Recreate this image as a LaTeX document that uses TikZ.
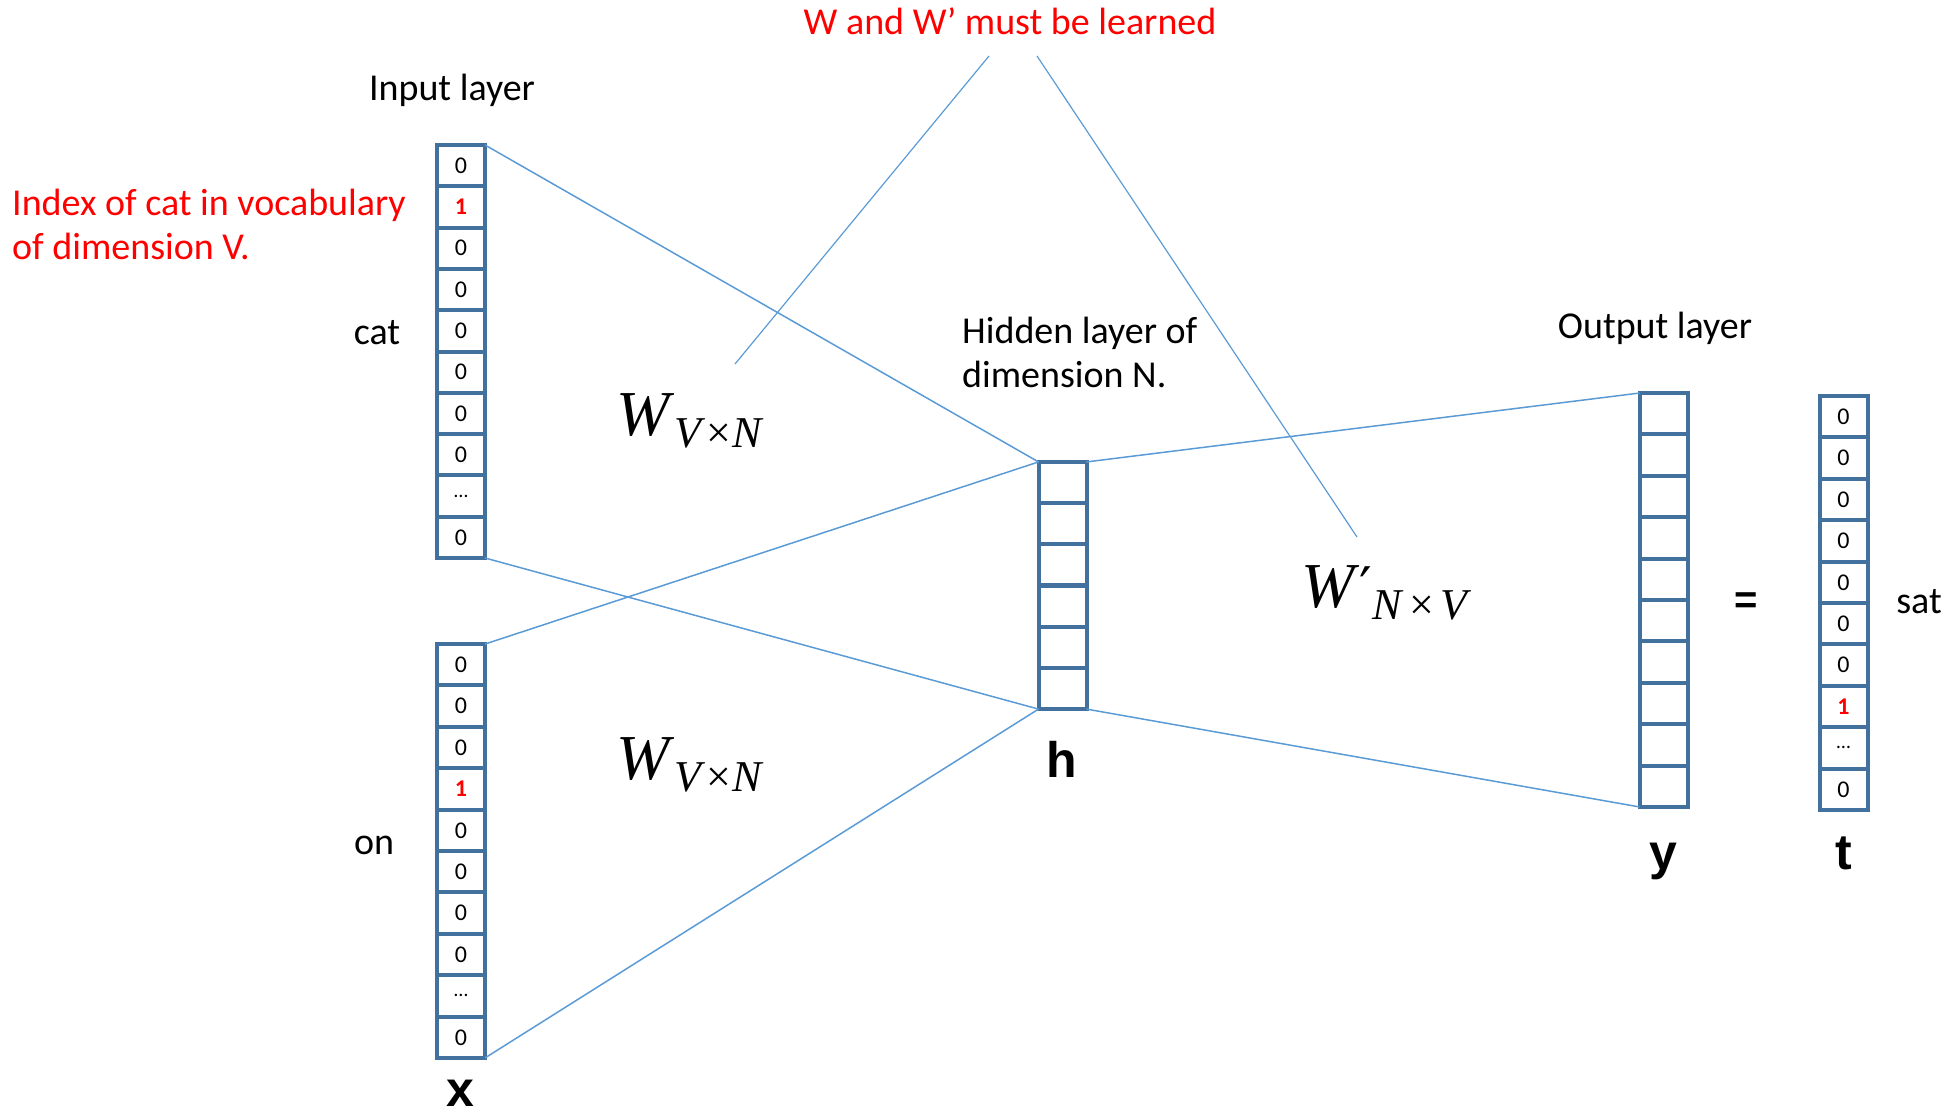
\documentclass[tikz,border=0pt]{standalone}
\usepackage{fontspec}
\setmainfont{Carlito}
\newfontfamily\boldsans{Liberation Sans}
\newfontfamily\mfnt{Liberation Serif}
\newfontfamily\primefnt{DejaVu Serif}
\definecolor{boxblue}{HTML}{41719C}
\definecolor{lineblue}{HTML}{5B9BD5}
\definecolor{redtxt}{HTML}{FF0000}
\tikzset{
  cell/.style={draw=boxblue, line width=4pt, minimum width=48pt, minimum height=41.3pt,
    inner sep=0pt, outer sep=0pt, font=\fontsize{24}{26}\selectfont},
  conn/.style={draw=lineblue, line width=1.5pt},
  lbl/.style={font=\fontsize{38}{44}\selectfont, inner sep=0pt},
  redlbl/.style={lbl, text=redtxt},
  bigletter/.style={font=\boldsans\fontsize{50}{56}\selectfont\bfseries, inner sep=0pt},
  mathlbl/.style={font=\mfnt\fontsize{64}{70}\selectfont, inner sep=0pt}
}
\newcommand{\onebit}{\textcolor{redtxt}{\textbf{1}}}
\newcommand{\celldots}{\raisebox{-2pt}{\fontsize{20}{22}\selectfont\textellipsis}}
\newcommand{\subsc}[3]{\raisebox{-12pt}{\fontsize{44}{48}\selectfont\textit{#1}\kern#3×\kern#3\textit{#2}}}
\begin{document}
\begin{tikzpicture}[x=1pt,y=-1pt]
\useasboundingbox (0,0) rectangle (1959,1115);
% upper input vector (cat)
\foreach \v [count=\i] in {0,\onebit,0,0,0,0,0,0,\celldots,0}
  \node[cell] (a\i) at (461,{145+41.3*(\i-0.5)}) {\v};
% lower input vector (on)
\foreach \v [count=\i] in {0,0,0,\onebit,0,0,0,0,\celldots,0}
  \node[cell] (b\i) at (461,{644+41.4*(\i-0.5)}) {\v};
% hidden layer
\foreach \i in {1,2,3,4,5,6}
  \node[cell] (h\i) at (1062.5,{462+41.17*(\i-0.5)}) {};
% output layer
\foreach \i in {1,2,3,4,5,6,7,8,9,10}
  \node[cell] (y\i) at (1663.5,{393+41.4*(\i-0.5)}) {};
% target vector
\foreach \v [count=\i] in {0,0,0,0,0,0,0,\onebit,\celldots,0}
  \node[cell] (t\i) at (1843.5,{396+41.4*(\i-0.5)}) {\v};
% connectors
\draw[conn] (a1.north east) -- (h1.north west);
\draw[conn] (a10.south east) -- (h6.south west);
\draw[conn] (b1.north east) -- (h1.north west);
\draw[conn] (b10.south east) -- (h6.south west);
\draw[conn] (h1.north east) -- (y1.north west);
\draw[conn] (h6.south east) -- (y10.south west);
% labels
\node[redlbl, anchor=base] (title) at (1010,35) {W and W’ must be learned};
\coordinate (tl) at (989,56);
\coordinate (tr) at (1037,56);
\coordinate (wl) at (735,364);
\coordinate (wr) at (1357,537);
\draw[conn, line width=1.2pt] (tl) -- (wl);
\draw[conn, line width=1.2pt] (tr) -- (wr);
\node[lbl, anchor=base] (inl) at (452,101) {Input layer};
\node[redlbl, anchor=base west] (idx1) at (12,216) {Index of cat in vocabulary};
\node[redlbl, anchor=base west] (idx2) at (12,260) {of dimension V.};
\node[lbl, anchor=base] (cat) at (377,344) {cat};
\node[lbl, anchor=base] (on) at (374,854) {on};
\node[lbl, anchor=base west] (hid1) at (962,343) {Hidden layer of};
\node[lbl, anchor=base west] (hid2) at (962,387) {dimension N.};
\node[lbl, anchor=base] (outl) at (1655,338) {Output layer};
\node[lbl, anchor=base] (sat) at (1919,613) {sat};
\node[bigletter, font=\boldsans\fontsize{40}{44}\selectfont\bfseries] (eq) at (1746,603) {=};
\node[bigletter, anchor=base] (hl) at (1062,777) {h};
\node[bigletter, anchor=base] (xl) at (460,1106) {x};
\node[bigletter, anchor=base] (yl) at (1663,869) {y};
\node[bigletter, anchor=base] (tlbl) at (1844,869) {t};
\node[mathlbl, anchor=base west] (w1) at (616,435) {\textit{W}\subsc{V}{N}{1pt}};
\node[mathlbl, anchor=base west] (w2) at (616,779) {\textit{W}\subsc{V}{N}{1pt}};
\node[mathlbl, anchor=base west] (w3) at (1301,607) {\textit{W}{\primefnt\fontsize{56}{60}\selectfont ′}\subsc{N}{V}{6pt}};
\end{tikzpicture}
\end{document}
